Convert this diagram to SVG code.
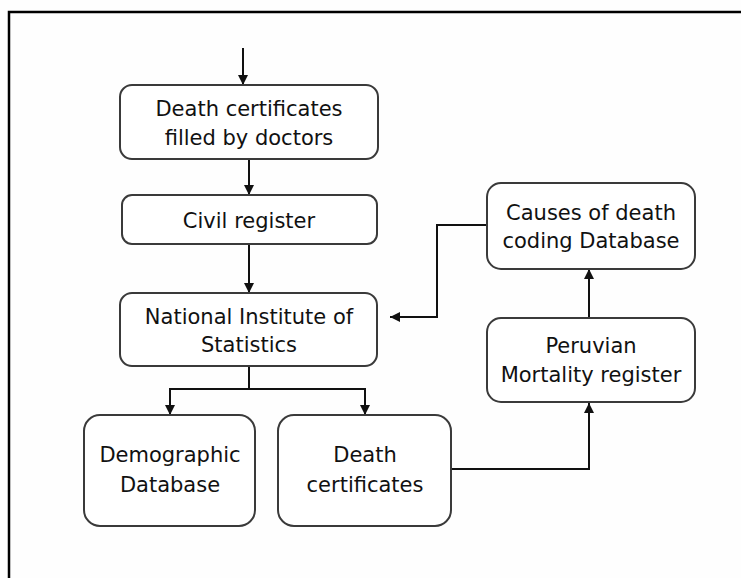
<svg xmlns="http://www.w3.org/2000/svg" width="741" height="578" viewBox="0 0 741 578">
  <defs>
    <marker id="arrow" viewBox="0 0 10 10" refX="10" refY="5" markerWidth="10" markerHeight="10" markerUnits="userSpaceOnUse" orient="auto">
      <path d="M0,0 L10,5 L0,10 Z" fill="#111"/>
    </marker>
    <style>
      .box { fill: #ffffff; stroke: #3a3a3a; stroke-width: 2; }
      .lbl { font-family: "DejaVu Sans", "Liberation Sans", sans-serif; font-size: 21px; fill: #111; text-anchor: middle; }
      .conn { fill: none; stroke: #111; stroke-width: 2; }
    </style>
  </defs>

  <rect width="741" height="578" fill="#fefefe"/>
  <!-- outer frame -->
  <rect x="9" y="12" width="760" height="600" fill="none" stroke="#000" stroke-width="2.5"/>

  <g id="connectors">
    <path class="conn" d="M243,48 V85" marker-end="url(#arrow)"/>
    <path class="conn" d="M249,159 V195" marker-end="url(#arrow)"/>
    <path class="conn" d="M249,244 V293" marker-end="url(#arrow)"/>
    <path class="conn" d="M249,366 V389 H170 V415" marker-end="url(#arrow)"/>
    <path class="conn" d="M249,389 H365 V415" marker-end="url(#arrow)"/>
    <path class="conn" d="M451,469 H589 V403" marker-end="url(#arrow)"/>
    <path class="conn" d="M589,318 V269" marker-end="url(#arrow)"/>
    <path class="conn" d="M487,225 H437 V317 H390" marker-end="url(#arrow)"/>
  </g>

  <g id="node-certificates-doctors">
    <rect class="box" x="120" y="85" width="258" height="74" rx="12"/>
    <text class="lbl" x="249" y="116">Death certificates</text>
    <text class="lbl" x="249" y="145">filled by doctors</text>
  </g>

  <g id="node-civil-register">
    <rect class="box" x="122" y="195" width="255" height="49" rx="10"/>
    <text class="lbl" x="249" y="228">Civil register</text>
  </g>

  <g id="node-national-institute">
    <rect class="box" x="120" y="293" width="257" height="73" rx="12"/>
    <text class="lbl" x="249" y="324">National Institute of</text>
    <text class="lbl" x="249" y="352">Statistics</text>
  </g>

  <g id="node-demographic-db">
    <rect class="box" x="84" y="415" width="171" height="111" rx="16"/>
    <text class="lbl" x="170" y="462">Demographic</text>
    <text class="lbl" x="170" y="492">Database</text>
  </g>

  <g id="node-death-certificates">
    <rect class="box" x="278" y="415" width="173" height="111" rx="16"/>
    <text class="lbl" x="365" y="462">Death</text>
    <text class="lbl" x="365" y="492">certificates</text>
  </g>

  <g id="node-peruvian-register">
    <rect class="box" x="487" y="318" width="208" height="84" rx="14"/>
    <text class="lbl" x="591" y="353">Peruvian</text>
    <text class="lbl" x="591" y="382">Mortality register</text>
  </g>

  <g id="node-causes-db">
    <rect class="box" x="487" y="183" width="208" height="86" rx="14"/>
    <text class="lbl" x="591" y="220">Causes of death</text>
    <text class="lbl" x="591" y="248">coding Database</text>
  </g>
</svg>
